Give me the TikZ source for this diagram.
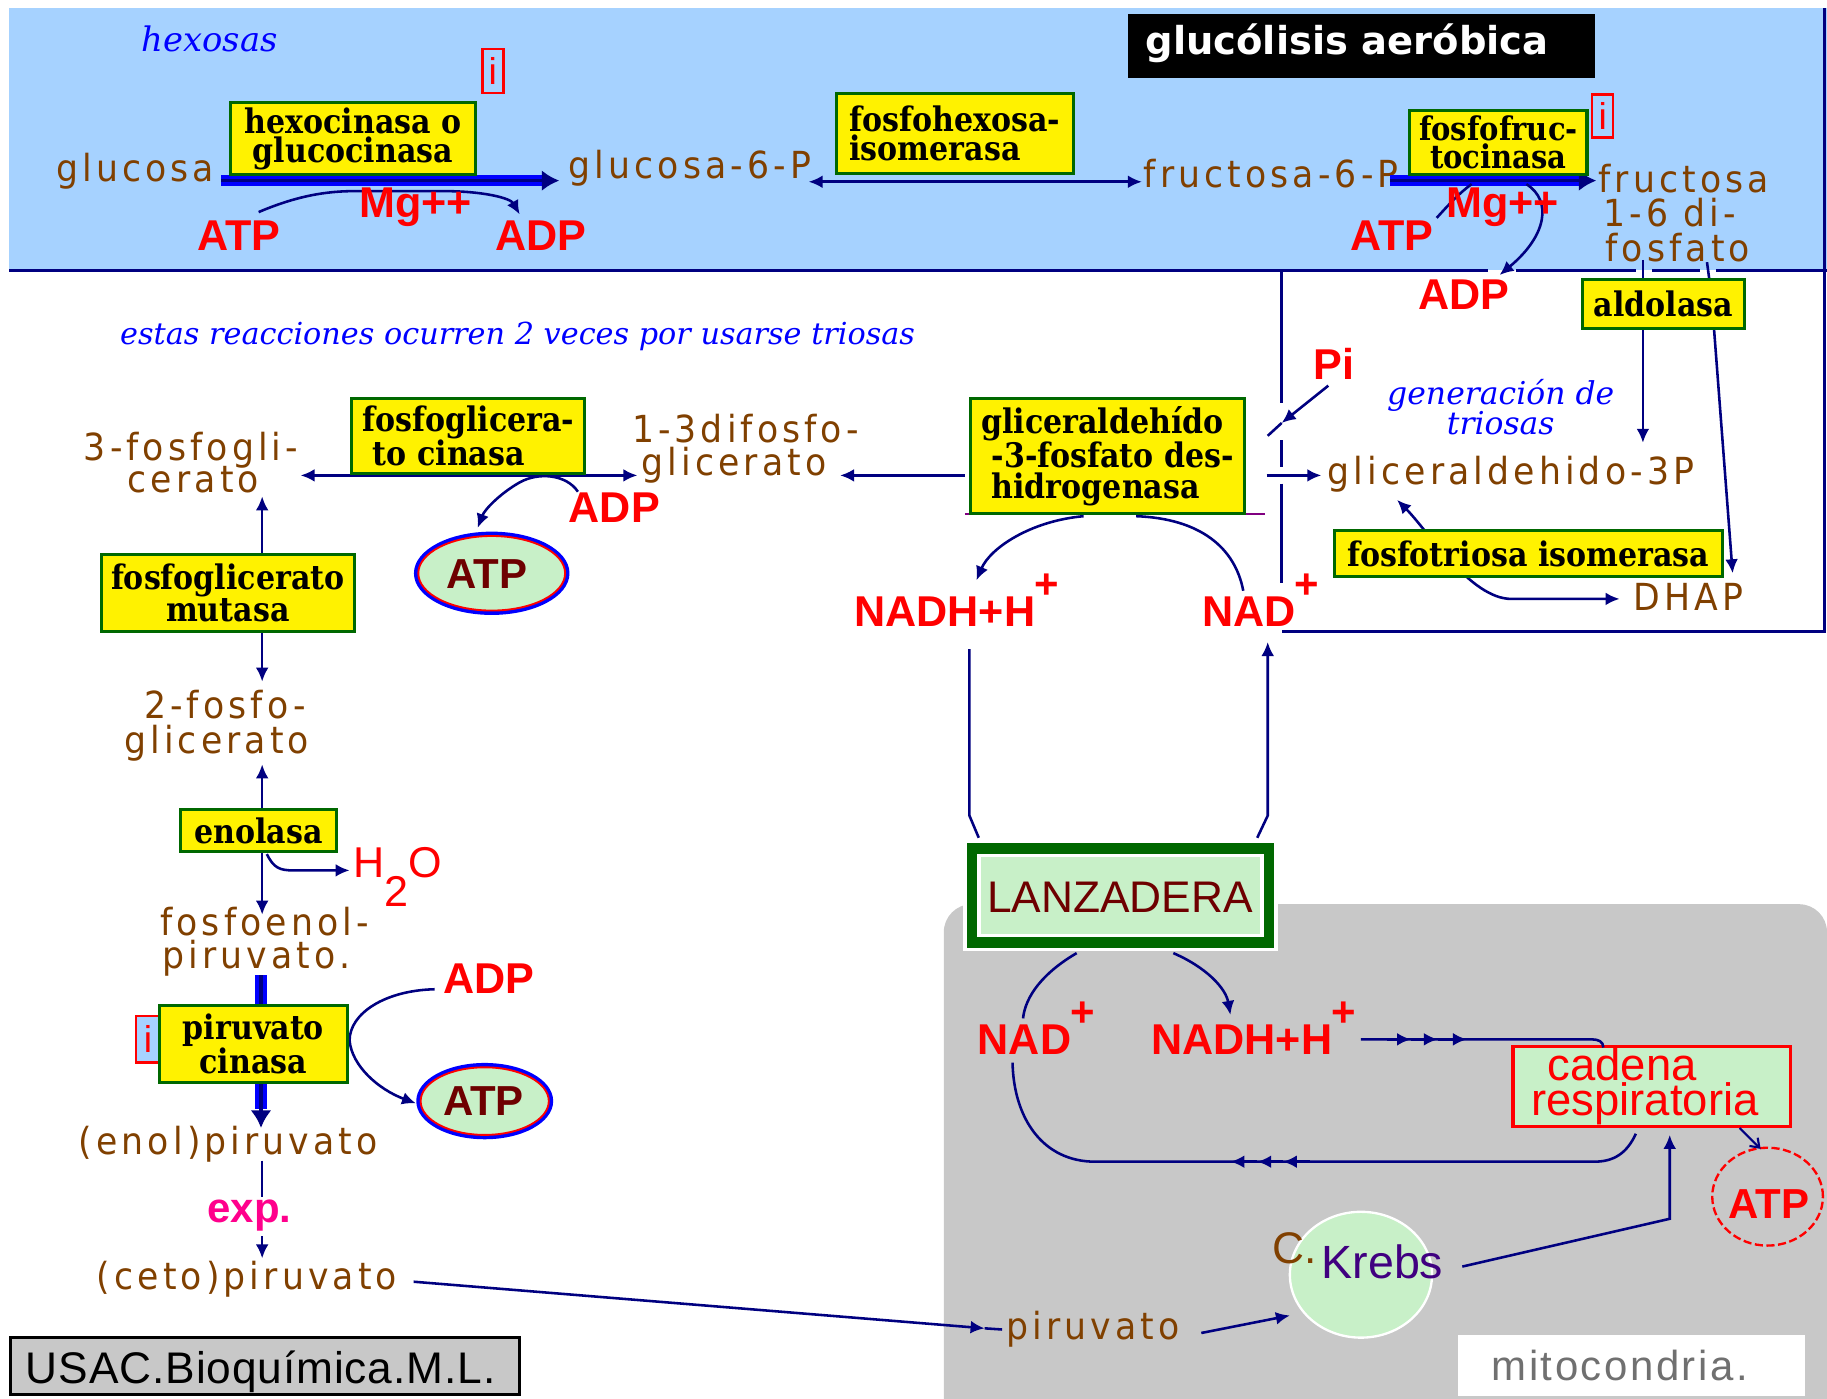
\documentclass[tikz,border=0pt]{standalone}
\usepackage{fontspec}
\usetikzlibrary{arrows.meta,shapes.geometric}
\setmainfont{DejaVu Sans}
\newfontfamily\metfont[LetterSpace=11,FakeStretch=0.93]{DejaVu Sans}
\newfontfamily\enzfont[FakeStretch=0.89]{DejaVu Serif}
\newfontfamily\lsfont{Liberation Sans}
\newfontfamily\itfont{DejaVu Serif}
\newfontfamily\mitofont[LetterSpace=6]{Liberation Sans}
\newfontfamily\usacfont[LetterSpace=2]{Liberation Sans}
\newfontfamily\titfont{DejaVu Sans}
\definecolor{bandblue}{RGB}{166,210,255}
\definecolor{navy}{RGB}{0,0,128}
\definecolor{enzgreen}{RGB}{0,104,0}
\definecolor{metbrown}{RGB}{128,64,0}
\definecolor{lgreen}{RGB}{200,240,200}
\definecolor{mgray}{RGB}{200,200,200}
\definecolor{dred}{RGB}{110,0,0}
\definecolor{kpurple}{RGB}{64,0,128}
\definecolor{expmag}{RGB}{255,0,140}
\definecolor{purpl}{RGB}{128,0,128}
\definecolor{mtext}{RGB}{112,112,112}
\newcommand\supplus{\kern-1pt\raisebox{24pt}{\fontsize{36}{36}\selectfont +}}
\tikzset{
 enz/.style={draw=enzgreen, line width=2.6pt, fill=yellow, text=black, font=\enzfont\bfseries\fontsize{29}{25}\selectfont, align=center, inner sep=0pt},
 enzwide/.style={enz, font=\enzfont\bfseries\fontsize{29}{27}\selectfont},
 met/.style={text=metbrown, font=\metfont\fontsize{32}{32}\selectfont, inner sep=0pt, anchor=base},
 rlab/.style={text=red, font=\lsfont\bfseries\fontsize{37}{37}\selectfont, inner sep=0pt, anchor=base west},
 nline/.style={draw=navy, line width=2.2pt},
 narr/.style={nline, -{Latex[length=12pt,width=11pt]}},
 ndarr/.style={nline, {Latex[length=12pt,width=11pt]}-{Latex[length=12pt,width=11pt]}},
 ibox/.style={draw=red, line width=2pt, text=red, font=\lsfont\fontsize{32}{32}\selectfont, minimum width=18pt, minimum height=38pt, inner sep=0pt},
 btxt/.style={text=blue, font=\itfont\itshape\fontsize{26}{26}\selectfont, inner sep=0pt, anchor=base west},
 atpell/.style={ellipse, draw=blue, line width=3.5pt, fill=lgreen, inner sep=0pt},
 atptxt/.style={text=dred, font=\lsfont\bfseries\fontsize{36}{36}\selectfont, inner sep=0pt, anchor=base west},
 thickbar/.style={draw=blue, line width=10pt},
 thickarr/.style={draw=navy, line width=3pt, -{Latex[length=15pt,width=18pt]}},
 border/.style={draw=navy, line width=3pt},
}
\begin{document}
\begin{tikzpicture}[x=1pt,y=-1pt]
\useasboundingbox (0,0) rectangle (1568,1200);
\fill[white] (0,0) rectangle (1568,1200);
% regions
\fill[bandblue] (8,7) rectangle (1568,232);
\fill[mgray, rounded corners=24pt] (810,776) rectangle (1568,1240);
% borders
\draw[border] (8,232) -- (1277,232);
\draw[border] (1301,232) -- (1404,232);
\draw[border] (1418,232) -- (1459,232);
\draw[border] (1473,232) -- (1568,232);
\draw[border] (1566,7) -- (1566,542) -- (1100,542);
\draw[border] (1100,232) -- (1100,346);
\draw[border] (1100,378) -- (1100,401);
\draw[border] (1100,415) -- (1100,500);
% title
\node[fill=black, minimum width=401pt, minimum height=55pt, inner sep=0pt] (titlebox) at (1168.5,39.5) {};
\node[anchor=base west, text=white, font=\titfont\bfseries\fontsize{33}{33}\selectfont, inner sep=0pt] (title) at (983,47) {glucólisis aeróbica};
\node[btxt, anchor=base, font=\itfont\itshape\fontsize{29}{29}\selectfont] (hexosas) at (180,44) {hexosas};
% info boxes
\node[ibox] (info1) at (423,61) {i};
\node[ibox, minimum height=37pt] (info2) at (1375.5,99.5) {i};
\node[ibox, fill=bandblue, minimum width=20pt, minimum height=40pt] (info3) at (127,892) {i};
% metabolites
\node[met] (glc) at (116,156) {glucosa};
\node[met] (g6p) at (592,153) {glucosa-6-P};
\node[met] (f6p) at (1091,161) {fructosa-6-P};
\node[met] (fbpa) at (1445,165) {fructosa};
\node[met] (fbpb) at (1433,194) {1-6 di-};
\node[met] (fbpc) at (1440,224) {fosfato};
\node[met] (pgaa) at (164,395) {3-fosfogli-};
\node[met] (pgab) at (166,423) {cerato};
\node[met] (bpga) at (640,380) {1-3difosfo-};
\node[met] (bpgb) at (630,408) {glicerato};
\node[met] (gap) at (1297,416) {gliceraldehido-3P};
\node[met] (dhap) at (1449,524) {DHAP};
\node[met] (pgba) at (193,617) {2-fosfo-};
\node[met] (pgbb) at (186,647) {glicerato};
\node[met] (pepa) at (227,803) {fosfoenol-};
\node[met] (pepb) at (220,831) {piruvato.};
\node[met] (enolpyr) at (196,991) {(enol)piruvato};
\node[met] (cetopyr) at (212,1107) {(ceto)piruvato};
% red labels
\node[rlab] (atpA) at (169,215) {ATP};
\node[rlab] (adpA) at (425,215) {ADP};
\node[rlab] (atpB) at (1159,215) {ATP};
\node[rlab] (adpB) at (1217,266) {ADP};
\node[rlab] (pi) at (1127,326) {Pi};
\node[rlab] (adpC) at (488,448) {ADP};
\node[rlab] (nadhA) at (733,538) {NADH+H\supplus};
\node[rlab] (nadA) at (1032,538) {NAD\supplus};
\node[rlab, font=\lsfont\fontsize{37}{37}\selectfont] (water) at (303,753) {H\raisebox{-25pt}{2}O};
\node[rlab] (adpD) at (380,853) {ADP};
\node[rlab, text=expmag, font=\lsfont\bfseries\fontsize{36}{36}\selectfont] (exp) at (178,1049) {exp.};
% notes
\node[btxt] (note1) at (103,296) {estas reacciones ocurren 2 veces por usarse triosas};
\node[btxt, anchor=north, align=center, font=\itfont\itshape\fontsize{27}{26}\selectfont] (gen) at (1288,325) {generación de\\triosas};
% ATP ellipses
\node[atpell, minimum width=130pt, minimum height=68pt] (atpE1) at (422,492) {};
\draw[red, line width=1.6pt] (atpE1.center) ellipse [x radius=63pt, y radius=32pt];
\node[atptxt] (atpT1) at (383,505) {ATP};
\node[atpell, minimum width=114pt, minimum height=62pt] (atpE2) at (416,945) {};
\draw[red, line width=1.6pt] (atpE2.center) ellipse [x radius=55pt, y radius=29pt];
\node[atptxt] (atpT2) at (380,957) {ATP};
% mitochondrion content
\node[draw=red, line width=3pt, fill=lgreen, minimum width=238pt, minimum height=69pt, inner sep=0pt] (cadbox) at (1417.5,932.5) {};
\node[anchor=north west, inner sep=0pt, align=left, text=red, font=\lsfont\fontsize{39}{30}\selectfont] (cad) at (1314,899) {\hspace*{14pt}cadena\\respiratoria};
\node[ellipse, draw=red, line width=2pt, dash pattern=on 7pt off 3pt, minimum width=95pt, minimum height=84pt, inner sep=0pt] (atpE3) at (1517,1027) {};
\node[atptxt, text=red] (atpT3) at (1483,1046) {ATP};
\node[ellipse, fill=lgreen, draw=white, line width=2pt, minimum width=122pt, minimum height=108pt, inner sep=0pt] (krebsE) at (1168,1094) {};
\node[anchor=base west, inner sep=0pt, text=metbrown, font=\lsfont\fontsize{38}{38}\selectfont] (cdot) at (1092,1084) {C.};
\node[anchor=base west, inner sep=0pt, text=kpurple, font=\lsfont\fontsize{40}{40}\selectfont] (krebs) at (1134,1097) {Krebs};
\node[met] (mitopyr) at (938,1150) {piruvato};
\node[rlab] (nadB) at (839,905) {NAD\supplus};
\node[rlab] (nadhB) at (988,905) {NADH+H\supplus};
% LANZADERA
\filldraw[fill=enzgreen, draw=white, line width=3pt] (828,722) rectangle (1095,815);
\filldraw[fill=lgreen, draw=white, line width=3pt] (840,734) rectangle (1083,803);
\node[anchor=base west, inner sep=0pt, text=dred, font=\lsfont\fontsize{38}{38}\selectfont] (lanz) at (847,783) {LANZADERA};
% footer boxes
\fill[white] (1251,1146) rectangle (1549,1198);
\node[anchor=base west, inner sep=0pt, text=mtext, font=\mitofont\fontsize{36}{36}\selectfont] (mito) at (1280,1185) {mitocondria.};
\filldraw[fill=mgray, draw=black, line width=3pt] (9,1148) rectangle (446,1197);
\node[anchor=base west, inner sep=0pt, font=\usacfont\fontsize{38}{38}\selectfont] (usac) at (22,1187) {USAC.Bioquímica.M.L.};
% ---------- connectors ----------
\coordinate (t1s) at (190,155); \coordinate (t1b) at (466,155); \coordinate (t1e) at (480,155);
\draw[thickbar] (t1s) -- (t1b);
\draw[thickarr] (t1s) -- (t1e);
\coordinate (c1s) at (222,182); \coordinate (c1a) at (305,164); \coordinate (c1b) at (380,164); \coordinate (c1e) at (446,184);
\draw[narr] (c1s) .. controls (255,168) and (280,164) .. (c1a) -- (c1b) .. controls (415,164) and (438,170) .. (c1e);
\coordinate (t2s) at (694,156); \coordinate (t2e) at (980,156);
\draw[ndarr] (t2s) -- (t2e);
\coordinate (t3s) at (1193,155); \coordinate (t3b) at (1356,155); \coordinate (t3e) at (1370,155);
\draw[thickbar] (t3s) -- (t3b);
\draw[thickarr] (t3s) -- (t3e);
\coordinate (c2s) at (1233,187); \coordinate (c2e) at (1263,158);
\draw[nline] (c2s) .. controls (1243,176) and (1252,166) .. (c2e);
\coordinate (c3s) at (1310,158); \coordinate (c3e) at (1287,236);
\draw[narr] (c3s) .. controls (1332,172) and (1328,202) .. (c3e);
\coordinate (al1) at (1410,223); \coordinate (al1e) at (1410,240);
\coordinate (al2) at (1465,225); \coordinate (al2e) at (1467,240);
\draw[nline] (al1) -- (al1e);
\draw[nline] (al2) -- (al2e);
\coordinate (ald1) at (1410,282); \coordinate (ald1e) at (1410,380);
\coordinate (ald2) at (1471,282); \coordinate (ald2e) at (1487,492);
\draw[narr] (ald1) -- (ald1e);
\draw[narr] (ald2) -- (ald2e);
\coordinate (pis) at (1140,331); \coordinate (pim) at (1100,363); \coordinate (pie) at (1088,374);
\draw[narr] (pis) -- (pim);
\draw[nline] (pim) -- (pie);
\coordinate (gh1) at (1087,408); \coordinate (gh1e) at (1134,408);
\draw[narr] (gh1) -- (gh1e);
\coordinate (gh2) at (828,408); \coordinate (gh2e) at (721,408);
\draw[narr] (gh2) -- (gh2e);
\coordinate (pu1) at (828,441); \coordinate (pu2) at (1086,441);
\draw[draw=purpl, line width=2.2pt] (pu1) -- (pu2);
\coordinate (pk1) at (258,408); \coordinate (pk2) at (547,408);
\draw[ndarr] (pk1) -- (pk2);
\coordinate (c4s) at (496,422); \coordinate (c4m) at (446,414); \coordinate (c4e) at (410,453);
\draw[narr] (c4s) .. controls (486,407) and (462,405) .. (c4m) .. controls (430,423) and (416,437) .. (c4e);
\coordinate (c5s) at (930,443); \coordinate (c5e) at (838,498);
\draw[narr] (c5s) .. controls (885,447) and (850,470) .. (c5e);
\coordinate (c6s) at (1067,507); \coordinate (c6e) at (975,443);
\draw[nline] (c6s) .. controls (1060,470) and (1030,445) .. (c6e);
\coordinate (v1s) at (832,557); \coordinate (v1m) at (832,700); \coordinate (v1e) at (840,719);
\draw[nline] (v1s) -- (v1m) -- (v1e);
\coordinate (v2s) at (1079,719); \coordinate (v2m) at (1088,700); \coordinate (v2e) at (1088,551);
\draw[narr] (v2s) -- (v2m) -- (v2e);
% left column
\coordinate (m1) at (225,475); \coordinate (m1e) at (225,426);
\draw[narr] (m1) -- (m1e);
\coordinate (m2) at (225,542); \coordinate (m2e) at (225,585);
\draw[narr] (m2) -- (m2e);
\coordinate (e1) at (225,695); \coordinate (e1e) at (225,656);
\draw[narr] (e1) -- (e1e);
\coordinate (e2) at (225,731); \coordinate (e2e) at (225,785);
\draw[narr] (e2) -- (e2e);
\coordinate (ws) at (229,733); \coordinate (wm) at (252,747); \coordinate (we) at (300,747);
\draw[narr] (ws) .. controls (235,745) and (240,747) .. (wm) -- (we);
\coordinate (t4s) at (224,837); \coordinate (t4b) at (224,952); \coordinate (t4e) at (224,968);
\draw[thickbar] (t4s) -- (t4b);
\draw[thickarr] (t4s) -- (t4e);
\coordinate (c7s) at (373,849); \coordinate (c7m) at (300,893); \coordinate (c7e) at (357,947);
\draw[narr] (c7s) .. controls (330,850) and (300,870) .. (c7m) .. controls (302,915) and (325,935) .. (c7e);
\coordinate (x1) at (225,996); \coordinate (x1e) at (225,1027);
\draw[nline] (x1) -- (x1e);
\coordinate (x2) at (225,1061); \coordinate (x2e) at (225,1080);
\draw[narr] (x2) -- (x2e);
\coordinate (cp1) at (355,1100); \coordinate (cp2) at (845,1140); \coordinate (cp3) at (860,1141);
\draw[narr] (cp1) -- (cp2);
\draw[nline] (cp2) -- (cp3);
% mitochondrion connectors
\coordinate (l1s) at (924,818); \coordinate (l1e) at (878,874);
\draw[nline] (l1s) .. controls (895,835) and (880,855) .. (l1e);
\coordinate (l2s) at (1007,818); \coordinate (l2e) at (1056,871);
\draw[narr] (l2s) .. controls (1035,830) and (1052,848) .. (l2e);
\coordinate (nh1) at (1168,892); \coordinate (nh2) at (1366,892); \coordinate (nh3) at (1376,899);
\draw[nline] (nh1) -- (nh2) .. controls (1372,892) and (1376,894) .. (nh3);
\coordinate (ma1) at (1190,892); \coordinate (ma1e) at (1211,892);
\coordinate (ma2e) at (1234,892); \coordinate (ma3e) at (1259,892);
\draw[narr] (ma1) -- (ma1e);
\draw[narr] (ma1e) -- (ma2e);
\draw[narr] (ma2e) -- (ma3e);
\coordinate (rt1) at (1404,973); \coordinate (rt2) at (1368,997); \coordinate (rt3) at (940,997); \coordinate (rt4) at (869,912);
\draw[nline] (rt1) .. controls (1396,990) and (1385,997) .. (rt2) -- (rt3) .. controls (895,997) and (870,960) .. (rt4);
\coordinate (mb1) at (1124,997); \coordinate (mb1e) at (1101,997);
\coordinate (mb2e) at (1079,997); \coordinate (mb3e) at (1056,997);
\draw[narr] (mb1) -- (mb1e);
\draw[narr] (mb1e) -- (mb2e);
\draw[narr] (mb2e) -- (mb3e);
\coordinate (ca1) at (1493,968); \coordinate (ca2) at (1511,986);
\draw[navy, line width=1.8pt, -{Straight Barb[length=7pt,width=10pt]}] (ca1) -- (ca2);
\coordinate (kr1) at (1255,1087); \coordinate (kr2) at (1433,1046); \coordinate (kr3) at (1433,974);
\draw[narr] (kr1) -- (kr2) -- (kr3);
\coordinate (py1) at (1031,1144); \coordinate (py2) at (1107,1129);
\draw[narr] (py1) -- (py2);
\coordinate (fi1) at (1199,429); \coordinate (fi2) at (1297,514); \coordinate (fi3) at (1390,514);
\draw[nline, {Latex[length=12pt,width=11pt]}-{Latex[length=12pt,width=11pt]}] (fi1) .. controls (1225,455) and (1262,514) .. (fi2) -- (fi3);
% Mg labels on top of the lines
\node[rlab] (mgA) at (308,187) {Mg++};
\node[rlab] (mgB) at (1241,187) {Mg++};
% ---------- enzyme boxes ----------
\node[enz, minimum width=210pt, minimum height=62pt] (hexo) at (303,119) {hexocinasa o\\glucocinasa};
\node[enz, minimum width=203pt, minimum height=69pt, align=left] (fhi) at (819.5,114.5) {fosfohexosa-\\isomerasa};
\node[enz, minimum width=152pt, minimum height=55pt, font=\enzfont\bfseries\fontsize{28}{24}\selectfont] (pfk) at (1286,122.5) {fosfofruc-\\tocinasa};
\node[enz, minimum width=139pt, minimum height=42pt] (aldo) at (1427.5,261) {aldolasa};
\node[enzwide, minimum width=200pt, minimum height=64pt, align=left] (pgk) at (402,374) {fosfoglicera-\\\ to cinasa};
\node[enzwide, minimum width=235pt, minimum height=99pt, align=left] (gapdh) at (950.5,391.5) {gliceraldehído\\\ -3-fosfato des-\\\ hidrogenasa};
\node[enz, minimum width=217pt, minimum height=66pt] (mutasa) at (195.5,509) {fosfoglicerato\\mutasa};
\node[enz, minimum width=333pt, minimum height=40pt] (fti) at (1311.5,475) {fosfotriosa isomerasa};
\node[enz, minimum width=134pt, minimum height=36pt] (enol) at (222,713) {enolasa};
\node[enzwide, minimum width=161pt, minimum height=66pt] (pkin) at (217.5,896) {piruvato\\cinasa};
\end{tikzpicture}
\end{document}
